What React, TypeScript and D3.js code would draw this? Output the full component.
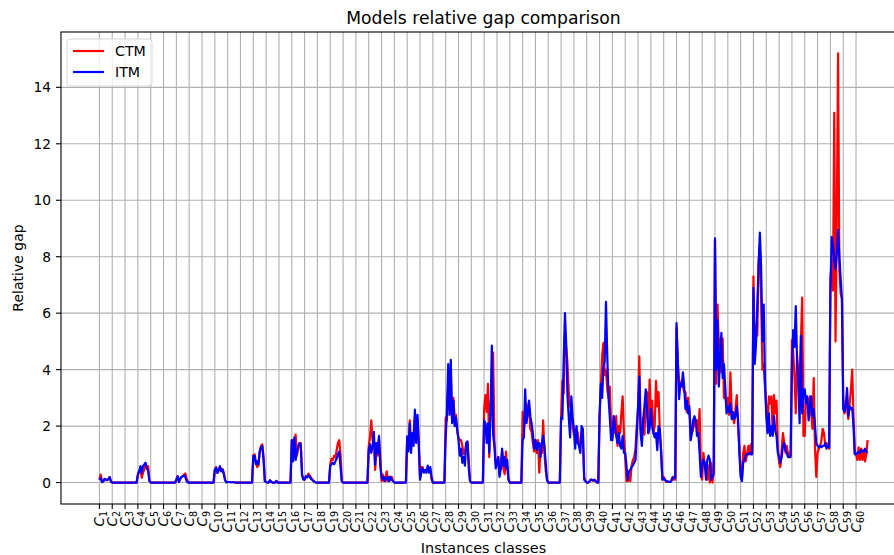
import * as d3 from 'd3';
import { useEffect, useRef } from 'react';

// relative gap per instance class, 10 instances per class (C1..C60)
const classLabels: string[] = d3.range(1, 61).map((i) => String(i));

const ctmByClass: number[][] = [
  [0.1, 0.28, 0.05, 0.03, 0.12, 0.1, 0.1, 0.12, 0.2, 0.05],
  [0, 0, 0, 0, 0, 0, 0, 0, 0, 0],
  [0, 0, 0, 0, 0, 0, 0, 0, 0, 0],
  [0.28, 0.4, 0.45, 0.17, 0.35, 0.45, 0.65, 0.5, 0.58, 0.05],
  [0, 0, 0, 0, 0, 0, 0, 0, 0, 0],
  [0, 0, 0, 0, 0, 0, 0, 0, 0, 0],
  [0.1, 0.22, 0.02, 0.12, 0.2, 0.22, 0.28, 0.32, 0.15, 0.02],
  [0, 0, 0, 0, 0, 0, 0, 0, 0, 0],
  [0, 0, 0, 0, 0, 0, 0, 0, 0, 0],
  [0.45, 0.55, 0.35, 0.42, 0.55, 0.4, 0.48, 0.35, 0.1, 0.02],
  [0.02, 0.02, 0.01, 0.01, 0.01, 0.01, 0, 0, 0, 0],
  [0, 0, 0, 0, 0, 0, 0, 0, 0, 0],
  [0.95, 1.0, 0.75, 0.55, 0.6, 1.1, 1.3, 1.35, 0.9, 0.05],
  [0.02, 0, 0, 0.08, 0.02, 0, 0, 0, 0.06, 0],
  [0, 0, 0, 0, 0, 0, 0, 0, 0, 0],
  [1.5, 0.9, 1.3, 1.7, 0.95, 1.2, 1.35, 1.4, 0.3, 0.15],
  [0.1, 0.22, 0.2, 0.32, 0.25, 0.18, 0.1, 0.05, 0.02, 0],
  [0, 0, 0, 0, 0, 0, 0, 0, 0, 0],
  [0.65, 0.85, 0.8, 0.95, 0.9, 1.15, 1.4, 1.5, 1.0, 0.05],
  [0, 0, 0, 0, 0, 0, 0, 0, 0, 0],
  [0, 0, 0, 0, 0, 0, 0, 0, 0, 0],
  [1.3, 1.6, 2.2, 1.5, 1.6, 0.45, 1.2, 0.95, 1.55, 0.9],
  [0.05, 0.28, 0.05, 0.1, 0.4, 0.05, 0.2, 0.1, 0.2, 0.05],
  [0, 0, 0, 0, 0, 0, 0, 0, 0, 0],
  [1.55, 1.3, 2.2, 1.3, 1.55, 1.75, 2.35, 1.55, 2.3, 1.4],
  [0.2, 0.55, 0.55, 0.4, 0.4, 0.35, 0.52, 0.4, 0.45, 0.1],
  [0, 0, 0, 0, 0, 0, 0, 0, 0, 0],
  [2.3, 2.2, 3.5, 2.6, 4.0, 2.2, 3.0, 2.3, 2.4, 1.8],
  [1.6, 1.5, 1.5, 1.3, 1.0, 1.05, 1.4, 1.45, 0.8, 0.05],
  [0, 0, 0, 0, 0, 0, 0, 0, 0, 0],
  [2.6, 3.1, 2.5, 3.5, 0.9, 2.8, 3.2, 4.6, 1.5, 0.7],
  [0.6, 0.9, 0.3, 0.6, 1.1, 0.5, 0.3, 1.1, 0.5, 0.1],
  [0, 0, 0, 0, 0, 0, 0, 0, 0, 0],
  [2.5, 1.9, 2.35, 2.8, 2.35, 2.7, 1.9, 1.8, 1.4, 1.1],
  [1.5, 1.05, 1.5, 0.35, 1.3, 1.05, 2.2, 1.05, 0.45, 0.1],
  [0, 0, 0, 0, 0, 0, 0, 0, 0, 0],
  [2.3, 3.6, 3.15, 5.2, 4.8, 4.2, 3.2, 2.7, 2.6, 2.0],
  [1.7, 1.65, 1.9, 1.75, 1.4, 1.3, 1.5, 1.6, 0.2, 0.05],
  [0, 0, 0.02, 0.08, 0.1, 0.06, 0.1, 0.04, 0, 0],
  [2.4, 3.4, 4.5, 4.95, 3.8, 4.0, 3.3, 3.0, 3.4, 2.0],
  [1.6, 2.3, 1.75, 2.35, 1.3, 2.0, 1.75, 2.45, 3.05, 1.75],
  [0.9, 0.05, 0.05, 0.2, 0.05, 0.6, 0.8, 0.9, 1.2, 2.0],
  [2.6, 4.47, 1.9, 1.75, 2.3, 1.7, 2.8, 3.2, 1.75, 3.65],
  [2.5, 2.9, 1.75, 2.0, 3.6, 2.7, 3.2, 1.75, 1.15, 0.1],
  [0.2, 0.1, 0.02, 0.02, 0.02, 0.02, 0.1, 0.2, 0.1, 0.1],
  [5.5, 4.2, 3.6, 3.4, 3.6, 3.4, 3.2, 3.2, 2.5, 3.0],
  [2.5, 2.0, 1.75, 1.9, 2.2, 2.0, 2.2, 1.75, 2.6, 0.5],
  [0.1, 1.05, 0.6, 0.35, 0.1, 0.6, 0, 0.7, 0, 0.4],
  [8.6, 3.5, 6.3, 4.8, 5.1, 3.9, 5.1, 3.0, 3.0, 2.8],
  [3.0, 2.4, 3.9, 2.6, 2.3, 2.1, 2.6, 3.1, 2.0, 1.3],
  [0.4, 0.1, 1.05, 1.3, 0.75, 1.0, 1.3, 1.0, 1.35, 1.1],
  [7.3, 4.3, 5.6, 5.2, 7.8, 8.4, 6.5, 4.0, 4.2, 3.4],
  [2.7, 1.85, 3.05, 2.8, 3.05, 1.75, 3.1, 2.45, 2.9, 1.2],
  [0.7, 0.55, 1.15, 1.75, 1.4, 1.05, 1.3, 0.95, 1.05, 0.9],
  [5.05, 4.6, 3.75, 2.45, 4.5, 3.9, 3.6, 5.0, 6.55, 1.65],
  [1.65, 3.05, 2.95, 2.8, 3.05, 2.45, 1.9, 3.7, 1.2, 0.2],
  [1.05, 1.2, 1.3, 1.5, 1.9, 1.75, 1.3, 1.4, 1.3, 1.2],
  [7.2, 7.9, 6.8, 13.1, 5.0, 9.5, 15.2, 7.5, 6.7, 6.5],
  [3.05, 2.45, 2.8, 2.6, 2.25, 2.8, 3.3, 4.0, 2.35, 1.05],
  [1.0, 0.8, 1.25, 0.8, 1.2, 0.8, 1.15, 0.75, 1.0, 1.5],
];

const itmByClass: number[][] = [
  [0.1, 0.16, 0.01, 0.05, 0.13, 0.1, 0.08, 0.13, 0.19, 0.02],
  [0, 0, 0, 0, 0, 0, 0, 0, 0, 0],
  [0, 0, 0, 0, 0, 0, 0, 0, 0, 0],
  [0.28, 0.4, 0.58, 0.34, 0.58, 0.64, 0.7, 0.52, 0.4, 0.05],
  [0, 0, 0, 0, 0, 0, 0, 0, 0, 0],
  [0, 0, 0, 0, 0, 0, 0, 0, 0, 0],
  [0.1, 0.22, 0.02, 0.13, 0.2, 0.22, 0.25, 0.2, 0.05, 0],
  [0, 0, 0, 0, 0, 0, 0, 0, 0, 0],
  [0, 0, 0, 0, 0, 0, 0, 0, 0, 0],
  [0.46, 0.52, 0.34, 0.44, 0.58, 0.4, 0.46, 0.3, 0.08, 0],
  [0.02, 0.02, 0.01, 0.01, 0.01, 0.01, 0, 0, 0, 0],
  [0, 0, 0, 0, 0, 0, 0, 0, 0, 0],
  [0.95, 0.95, 0.65, 0.75, 0.65, 1.1, 1.25, 1.3, 0.8, 0.05],
  [0.02, 0, 0, 0.08, 0.02, 0, 0, 0, 0.06, 0],
  [0, 0, 0, 0, 0, 0, 0, 0, 0, 0],
  [1.5, 0.75, 1.6, 0.8, 1.1, 1.3, 1.4, 1.35, 0.25, 0.1],
  [0.1, 0.22, 0.18, 0.25, 0.2, 0.13, 0.1, 0.05, 0.02, 0],
  [0, 0, 0, 0, 0, 0, 0, 0, 0, 0],
  [0.6, 0.65, 0.7, 0.65, 0.75, 0.85, 1.0, 1.1, 0.55, 0.05],
  [0, 0, 0, 0, 0, 0, 0, 0, 0, 0],
  [0, 0, 0, 0, 0, 0, 0, 0, 0, 0],
  [1.15, 1.35, 1.05, 1.3, 1.8, 0.63, 1.4, 1.05, 1.65, 0.6],
  [0.2, 0.1, 0.2, 0.05, 0.15, 0.2, 0.05, 0.2, 0.1, 0.05],
  [0, 0, 0, 0, 0, 0, 0, 0, 0, 0],
  [1.64, 1.1, 2.1, 1.05, 1.75, 1.3, 2.58, 1.4, 2.4, 1.4],
  [0.1, 0.35, 0.5, 0.35, 0.45, 0.35, 0.6, 0.35, 0.55, 0.2],
  [0, 0, 0, 0, 0, 0, 0, 0, 0, 0],
  [1.6, 2.5, 4.2, 2.4, 4.35, 2.1, 2.9, 2.0, 2.3, 1.9],
  [1.5, 0.95, 1.2, 0.7, 0.9, 0.6, 1.4, 1.45, 0.5, 0.05],
  [0, 0, 0, 0, 0, 0, 0, 0, 0, 0],
  [2.2, 2.1, 1.4, 2.1, 1.05, 2.5, 4.85, 1.7, 1.3, 0.5],
  [0.7, 0.9, 0.2, 0.5, 1.2, 0.6, 0.9, 0.5, 0.8, 0.1],
  [0, 0, 0, 0, 0, 0, 0, 0, 0, 0],
  [1.5, 1.6, 3.3, 2.1, 2.45, 2.9, 2.35, 2.1, 1.75, 1.2],
  [1.5, 1.15, 1.4, 1.4, 0.9, 1.4, 1.65, 1.3, 0.7, 0.1],
  [0, 0, 0, 0, 0, 0, 0, 0, 0, 0],
  [2.3, 2.25, 4.3, 6.0, 4.9, 3.05, 2.3, 1.6, 3.05, 2.3],
  [1.9, 1.2, 2.0, 1.4, 1.3, 1.05, 2.0, 1.9, 0.1, 0.05],
  [0, 0, 0.03, 0.1, 0.1, 0.08, 0.1, 0.05, 0, 0],
  [2.35, 3.5, 3.0, 4.1, 4.3, 6.4, 4.5, 3.0, 2.3, 1.5],
  [1.5, 2.35, 2.0, 1.65, 1.4, 1.75, 1.3, 1.2, 1.65, 1.05],
  [1.05, 0.6, 0.1, 0.4, 0.45, 0.55, 0.6, 0.7, 0.8, 1.7],
  [2.7, 3.75, 1.75, 1.3, 2.2, 2.7, 3.3, 2.6, 1.75, 1.9],
  [2.6, 2.0, 1.75, 1.6, 1.75, 1.15, 2.0, 1.9, 1.05, 0.1],
  [0.15, 0.1, 0.05, 0.05, 0.02, 0.02, 0.05, 0.15, 0.2, 0.15],
  [5.65, 4.35, 2.95, 3.5, 3.4, 3.9, 3.4, 2.6, 2.9, 2.45],
  [2.7, 1.5, 1.75, 2.2, 2.35, 2.2, 1.65, 1.75, 1.05, 0.2],
  [0.6, 0.8, 0.7, 0.1, 0.8, 0.95, 0.8, 0.1, 0.2, 0.3],
  [8.65, 4.0, 5.75, 3.4, 4.4, 5.3, 3.7, 4.2, 3.4, 2.45],
  [2.7, 2.5, 2.8, 2.25, 2.5, 2.25, 2.35, 2.7, 2.25, 1.05],
  [0.2, 0.05, 0.7, 0.8, 0.95, 1.0, 1.0, 1.05, 1.0, 1.0],
  [6.9, 4.2, 4.9, 6.3, 7.7, 8.85, 7.6, 5.0, 6.3, 3.6],
  [2.35, 1.75, 2.45, 1.65, 2.0, 1.65, 2.35, 1.85, 1.65, 1.05],
  [0.9, 0.7, 0.9, 1.3, 1.4, 1.15, 1.05, 0.9, 0.9, 0.95],
  [4.1, 5.4, 4.8, 6.25, 4.3, 3.4, 2.1, 5.2, 2.45, 3.3],
  [3.3, 2.8, 3.05, 2.2, 2.7, 3.05, 2.35, 2.6, 2.0, 1.4],
  [1.3, 1.25, 1.3, 1.25, 1.3, 1.3, 1.4, 1.2, 1.3, 1.25],
  [6.7, 8.7, 8.4, 7.9, 7.55, 8.1, 8.95, 8.0, 7.2, 6.5],
  [2.6, 2.5, 2.75, 3.35, 2.35, 2.7, 2.6, 2.65, 2.0, 1.0],
  [1.0, 1.05, 1.1, 1.05, 1.15, 1.1, 1.1, 1.2, 1.1, 1.05],
];

const yTicks: number[] = [0, 2, 4, 6, 8, 10, 12, 14];
const perClass = 10;

const W = 894, H = 555;
const FONT = "'DejaVu Sans', sans-serif";

export default function App() {
  const ref = useRef<SVGSVGElement>(null);

  useEffect(() => {
    const ctm = ctmByClass.flat();
    const itm = itmByClass.flat();
    const n = ctm.length;

    const left = 61, right = 906, top = 32, bottom = 504;
    const pad = (n - 1) * 0.05;
    const x = d3.scaleLinear().domain([-pad, n - 1 + pad]).range([left, right]);
    const yMax = d3.max(ctm.concat(itm)) as number;
    const yPad = yMax * 0.05;
    const y = d3.scaleLinear().domain([-yPad, yMax + yPad]).range([bottom, top]);

    const svg = d3.select(ref.current);
    svg.selectAll('*').remove();

    const grid = svg.append('g').attr('stroke', '#b0b0b0').attr('stroke-width', 1.1);
    classLabels.forEach((_, i) => {
      const gx = x(i * perClass);
      grid.append('line').attr('x1', gx).attr('x2', gx).attr('y1', top).attr('y2', bottom);
    });
    yTicks.forEach((t) => {
      grid.append('line').attr('x1', left).attr('x2', right).attr('y1', y(t)).attr('y2', y(t));
    });

    const line = d3.line<number>().x((_, i) => x(i)).y((d) => y(d));
    svg.append('path').datum(ctm).attr('d', line).attr('fill', 'none')
      .attr('stroke', '#ff0000').attr('stroke-width', 2.2).attr('stroke-linejoin', 'round');
    svg.append('path').datum(itm).attr('d', line).attr('fill', 'none')
      .attr('stroke', '#0000ff').attr('stroke-width', 2.2).attr('stroke-linejoin', 'round');

    // spines
    svg.append('rect').attr('x', left).attr('y', top).attr('width', right - left).attr('height', bottom - top)
      .attr('fill', 'none').attr('stroke', '#000').attr('stroke-width', 1.1);

    // y axis
    yTicks.forEach((t) => {
      svg.append('line').attr('x1', left - 5).attr('x2', left).attr('y1', y(t)).attr('y2', y(t))
        .attr('stroke', '#000').attr('stroke-width', 1.1);
      svg.append('text').attr('x', left - 10).attr('y', y(t)).attr('dy', '0.36em')
        .attr('text-anchor', 'end').attr('font-family', FONT).attr('font-size', 13.8).text(t);
    });

    // x axis
    classLabels.forEach((lab, i) => {
      const tx = x(i * perClass);
      svg.append('line').attr('x1', tx).attr('x2', tx).attr('y1', bottom).attr('y2', bottom + 5)
        .attr('stroke', '#000').attr('stroke-width', 1.1);
      const t = svg.append('text')
        .attr('transform', 'translate(' + (tx + 4.5) + ',' + (bottom + 7) + ') rotate(-90)')
        .attr('text-anchor', 'end').attr('font-family', FONT).attr('font-size', 13.3);
      t.append('tspan').attr('font-style', 'italic').text('C');
      t.append('tspan').attr('font-size', 9.6).attr('dy', 3).text(lab);
    });

    svg.append('text').attr('x', (left + right) / 2).attr('y', 553).attr('text-anchor', 'middle')
      .attr('font-family', FONT).attr('font-size', 14.4).text('Instances classes');
    svg.append('text').attr('transform', 'translate(23,' + (top + bottom) / 2 + ') rotate(-90)')
      .attr('text-anchor', 'middle').attr('font-family', FONT).attr('font-size', 14).text('Relative gap');
    svg.append('text').attr('x', (left + right) / 2).attr('y', 24).attr('text-anchor', 'middle')
      .attr('font-family', FONT).attr('font-size', 17.2).text('Models relative gap comparison');

    // legend
    const lg = svg.append('g').attr('transform', 'translate(67,39)');
    lg.append('rect').attr('width', 85).attr('height', 47).attr('rx', 3)
      .attr('fill', '#fff').attr('fill-opacity', 0.8).attr('stroke', '#d6d6d6');
    [['CTM', '#ff0000'], ['ITM', '#0000ff']].forEach(([name, c], i) => {
      const ly = 12 + i * 21;
      lg.append('line').attr('x1', 6).attr('x2', 37).attr('y1', ly).attr('y2', ly)
        .attr('stroke', c).attr('stroke-width', 2.2);
      lg.append('text').attr('x', 48).attr('y', ly).attr('dy', '0.36em')
        .attr('font-family', FONT).attr('font-size', 14.2).text(name);
    });
  }, []);

  return (
    <svg ref={ref} width={W} height={H}
      style={{ position: 'absolute', left: 0, top: 0, background: '#fff' }} />
  );
}
